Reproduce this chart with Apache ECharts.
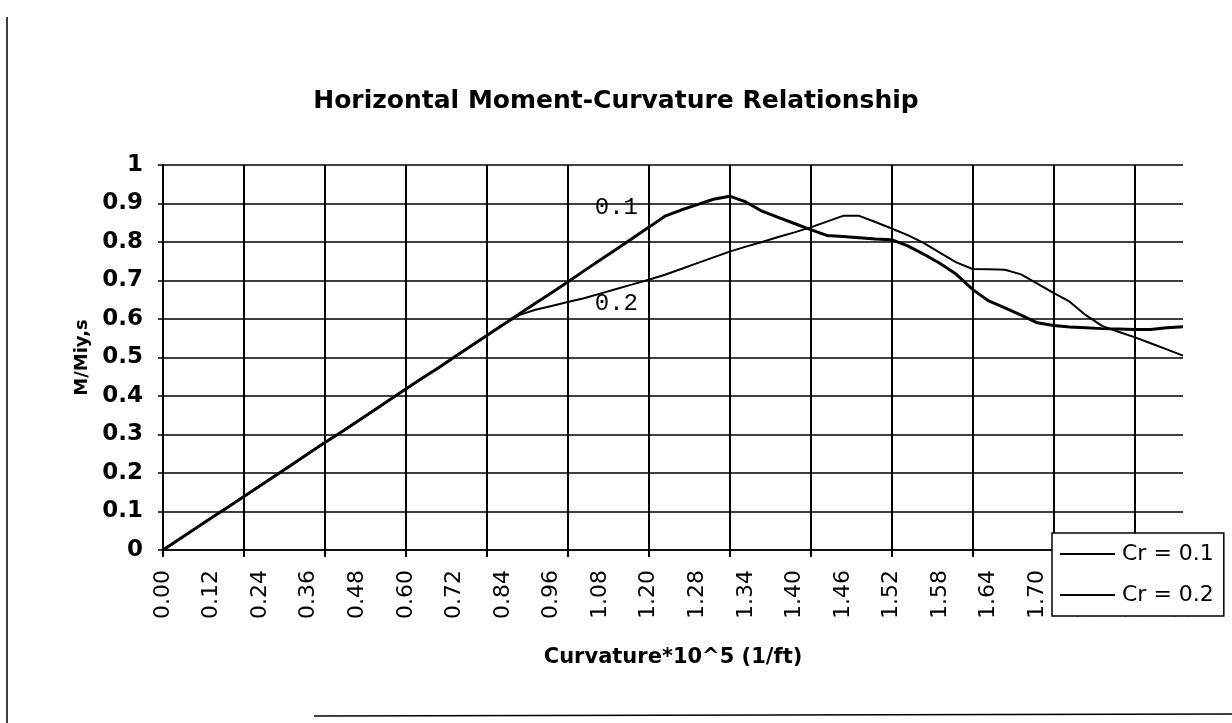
<!DOCTYPE html>
<html>
<head>
<meta charset="utf-8">
<script src="https://cdn.jsdelivr.net/npm/echarts@6/dist/echarts.min.js"></script>
<style>
  html, body { margin: 0; padding: 0; background: #fff; }
  #chart { width: 1232px; height: 723px; }
</style>
</head>
<body>
<div id="chart"></div>
<script>
// Curvature * 10^5 (1/ft) — one category per computed point
const curvature = [
  "0.00","0.04","0.08","0.12","0.16","0.20","0.24","0.28","0.32","0.36",
  "0.40","0.44","0.48","0.52","0.56","0.60","0.64","0.68","0.72","0.76",
  "0.80","0.84","0.88","0.92","0.96","1.00","1.04","1.08","1.12","1.16",
  "1.20","1.24","1.26","1.28","1.30","1.32","1.34","1.36","1.38","1.40",
  "1.42","1.44","1.46","1.48","1.50","1.52","1.54","1.56","1.58","1.60",
  "1.62","1.64","1.66","1.68","1.70","1.72","1.74","1.76","1.78","1.80",
  "1.82","1.84","1.86","1.88"
];

// M/Miy,s for Cr = 0.1
const momentCr01 = [
  0, .028, .056, .084, .111, .139, .167, .195, .223, .251,
  .279, .306, .334, .362, .390, .418, .446, .473, .501, .529,
  .557, .585, .613, .641, .668, .696, .725, .753, .781, .810,
  .838, .867, .883, .897, .911, .919, .904, .880, .864, .848,
  .832, .817, .814, .811, .808, .806, .790, .768, .744, .716,
  .677, .647, .629, .610, .590, .583, .579, .577, .575, .574,
  .573, .573, .577, .580
];

// M/Miy,s for Cr = 0.2
const momentCr02 = [
  0, .028, .056, .084, .111, .139, .167, .195, .223, .251,
  .279, .306, .334, .362, .390, .418, .446, .473, .501, .529,
  .557, .585, .610, .624, .634, .644, .654, .666, .678, .690,
  .702, .715, .730, .745, .760, .775, .788, .800, .813, .825,
  .838, .853, .868, .868, .852, .835, .818, .797, .772, .747,
  .730, .729, .728, .716, .692, .668, .645, .610, .582, .567,
  .553, .537, .521, .505
];

const seriesNames = ["Cr = 0.1", "Cr = 0.2"];
const curveTags = ["0.1", "0.2"];
// where the curve tags sit, in data space (curvature, M/Miy,s)
const tagAt = [["1.12", 0.888], ["1.12", 0.639]];

const LABEL_STEP = 3;   // a tick label every 3rd point
const GRID_STEP = 5;    // a gridline every 5th point

const SANS = "DejaVu Sans";
const chart = echarts.init(document.getElementById("chart"), null, { renderer: "canvas" });

function tagPoint(i) {
  return {
    symbol: "circle",
    symbolSize: 0,
    label: {
      show: true,
      position: "inside",
      formatter: curveTags[i],
      fontFamily: "Liberation Mono",
      fontSize: 24,
      color: "#000"
    },
    data: [{ coord: tagAt[i] }]
  };
}

chart.setOption({
  animation: false,
  backgroundColor: "#fff",
  title: {
    text: "Horizontal Moment-Curvature Relationship",
    left: "center",
    top: 84,
    textStyle: { fontFamily: SANS, fontWeight: "bold", fontSize: 25, color: "#000" }
  },
  grid: { left: 163, right: 49, top: 165, bottom: 173, containLabel: false },
  legend: {
    orient: "vertical",
    left: 1052,
    top: 533,
    data: seriesNames,
    icon: "rect",
    itemWidth: 55,
    itemHeight: 2,
    itemGap: 19,
    padding: [10, 10, 10, 8],
    backgroundColor: "#fff",
    borderColor: "#000",
    borderWidth: 1.5,
    borderRadius: 0,
    textStyle: { fontFamily: SANS, fontSize: 22, color: "#000", padding: [0, 0, 0, 2] }
  },
  xAxis: {
    type: "category",
    data: curvature,
    boundaryGap: false,
    name: "Curvature*10^5 (1/ft)",
    nameLocation: "middle",
    nameGap: 97,
    nameTextStyle: { fontFamily: SANS, fontWeight: "bold", fontSize: 21, color: "#000", verticalAlign: "top" },
    axisLine: { show: true, lineStyle: { color: "#000", width: 1.5 } },
    axisTick: {
      show: true,
      length: 7,
      interval: (i) => i % GRID_STEP === 0,
      lineStyle: { color: "#000", width: 2 }
    },
    axisLabel: {
      interval: (i) => i % LABEL_STEP === 0,
      rotate: 90,
      margin: 20,
      fontFamily: SANS,
      fontSize: 22,
      color: "#000"
    },
    splitLine: {
      show: true,
      interval: (i) => i % GRID_STEP === 0,
      lineStyle: { color: "#000", width: 2 }
    }
  },
  yAxis: {
    type: "value",
    min: 0,
    max: 1,
    interval: 0.1,
    name: "M/Miy,s",
    nameLocation: "middle",
    nameGap: 66,
    nameRotate: 90,
    nameTextStyle: { fontFamily: SANS, fontWeight: "bold", fontSize: 18, color: "#000" },
    axisLine: { show: true, lineStyle: { color: "#000", width: 2 } },
    axisTick: { show: true, length: 5, lineStyle: { color: "#000", width: 1.5 } },
    axisLabel: { margin: 20, fontFamily: SANS, fontWeight: "bold", fontSize: 23, color: "#000" },
    splitLine: { show: true, lineStyle: { color: "#000", width: 1.5 } }
  },
  graphic: [
    { type: "line", shape: { x1: 7, y1: 17, x2: 7, y2: 723 }, style: { stroke: "#000", lineWidth: 1.5 } },
    { type: "line", shape: { x1: 314, y1: 716, x2: 1232, y2: 714 }, style: { stroke: "#000", lineWidth: 1.5 } }
  ],
  series: [
    {
      name: seriesNames[1],
      type: "line",
      data: momentCr02,
      showSymbol: false,
      symbol: "none",
      color: "#000",
      lineStyle: { color: "#000", width: 2 },
      markPoint: tagPoint(1),
      z: 3
    },
    {
      name: seriesNames[0],
      type: "line",
      data: momentCr01,
      showSymbol: false,
      symbol: "none",
      color: "#000",
      lineStyle: { color: "#000", width: 3 },
      markPoint: tagPoint(0),
      z: 4
    }
  ]
});
</script>
</body>
</html>
